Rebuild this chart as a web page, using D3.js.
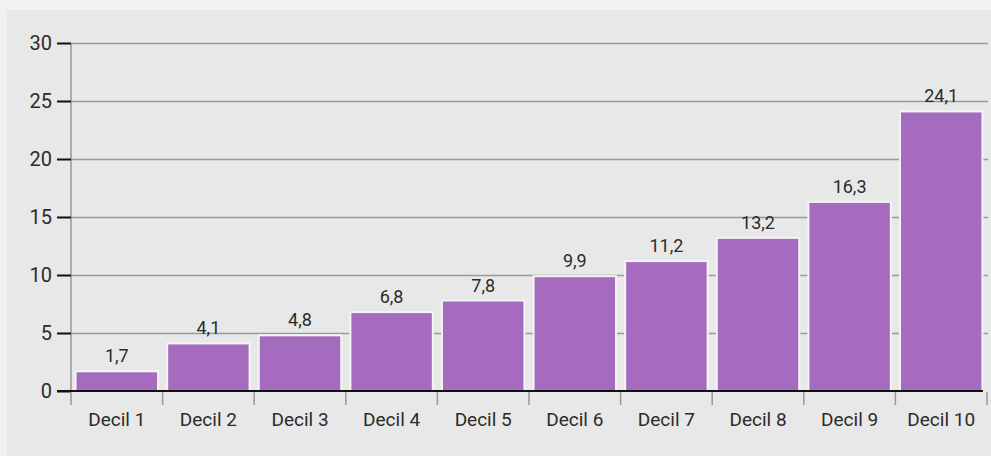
<!DOCTYPE html>
<html>
<head>
<meta charset="utf-8">
<script src="https://cdn.jsdelivr.net/npm/d3@7"></script>
<style>
  body { margin: 0; background: #f1f1f1; }
  text { font-family: Roboto, "Noto Sans", sans-serif; fill: #2b2b2b; }
</style>
</head>
<body>
<svg width="991" height="456"></svg>
<script>
// Data
var categories = ["Decil 1", "Decil 2", "Decil 3", "Decil 4", "Decil 5",
                  "Decil 6", "Decil 7", "Decil 8", "Decil 9", "Decil 10"];
var values = [1.7, 4.1, 4.8, 6.8, 7.8, 9.9, 11.2, 13.2, 16.3, 24.1];
var valueLabels = ["1,7", "4,1", "4,8", "6,8", "7,8", "9,9", "11,2", "13,2", "16,3", "24,1"];
var yTicks = [0, 5, 10, 15, 20, 25, 30];

var svg = d3.select("svg"),
	width = +svg.attr("width"),
	height = +svg.attr("height");

var margin = {top: 43, right: 4, bottom: 65, left: 71};

// plot background
svg.append("rect")
	.attr("x", 7).attr("y", 10)
	.attr("width", width - 7).attr("height", height - 10)
	.attr("fill", "#e8e8e8");

var x = d3.scaleBand()
	.domain(categories)
	.range([margin.left, width - margin.right])
	.paddingInner(0.1)
	.paddingOuter(0.05);

var y = d3.scaleLinear()
	.domain([0, 30])
	.range([height - margin.bottom, margin.top]);

// Gridlines
svg.append("g")
	.selectAll("line")
	.data(yTicks.filter(function(d){ return d > 0; }))
	.enter()
	.append("line")
	.attr("x1", margin.left)
	.attr("x2", width - 3)
	.attr("y1", function(d){ return Math.round(y(d)) + 0.5; })
	.attr("y2", function(d){ return Math.round(y(d)) + 0.5; })
	.attr("stroke", "#999")
	.attr("stroke-width", 1.5);

// Y axis
var yAxis = svg.append("g")
	.attr("transform", "translate(" + margin.left + ",0)")
	.call(d3.axisLeft(y).tickValues(yTicks).tickSize(14).tickPadding(5));
yAxis.select(".domain").attr("stroke", "#999").attr("stroke-width", 1.5)
	.attr("d", "M0," + y(30) + "V" + y(0));
yAxis.selectAll(".tick line").attr("stroke", "#111").attr("stroke-width", 2);
yAxis.selectAll(".tick text").style("font-size", "20px").attr("fill", "#2b2b2b");

// Bars
svg.append("g")
	.selectAll("rect")
	.data(values)
	.enter()
	.append("rect")
	.attr("x", function(d, i){ return x(categories[i]); })
	.attr("y", function(d){ return y(d); })
	.attr("width", x.bandwidth())
	.attr("height", function(d){ return y(0) - y(d); })
	.attr("fill", "#a56bbf")
	.attr("stroke", "#f4f4f4")
	.attr("stroke-width", 2);

// Value labels
svg.append("g")
	.selectAll("text")
	.data(values)
	.enter()
	.append("text")
	.attr("x", function(d, i){ return x(categories[i]) + x.bandwidth() / 2; })
	.attr("y", function(d){ return y(d) - 9; })
	.attr("text-anchor", "middle")
	.style("font-size", "18px")
	.text(function(d, i){ return valueLabels[i]; });

// X axis baseline
svg.append("line")
	.attr("x1", margin.left - 14).attr("x2", width - margin.right - 4)
	.attr("y1", y(0)).attr("y2", y(0))
	.attr("stroke", "#111").attr("stroke-width", 2);

// Category separators
var edges = d3.range(categories.length + 1).map(function(i){
	return margin.left + i * (width - margin.right - margin.left) / categories.length;
});
svg.append("g")
	.selectAll("line")
	.data(edges)
	.enter()
	.append("line")
	.attr("x1", function(d){ return d; })
	.attr("x2", function(d){ return d; })
	.attr("y1", y(0) + 1).attr("y2", y(0) + 14)
	.attr("stroke", "#999").attr("stroke-width", 1.5);

// Category labels
svg.append("g")
	.selectAll("text")
	.data(categories)
	.enter()
	.append("text")
	.attr("x", function(d){ return x(d) + x.bandwidth() / 2; })
	.attr("y", y(0) + 35)
	.attr("text-anchor", "middle")
	.style("font-size", "19px")
	.text(function(d){ return d; });
</script>
</body>
</html>
